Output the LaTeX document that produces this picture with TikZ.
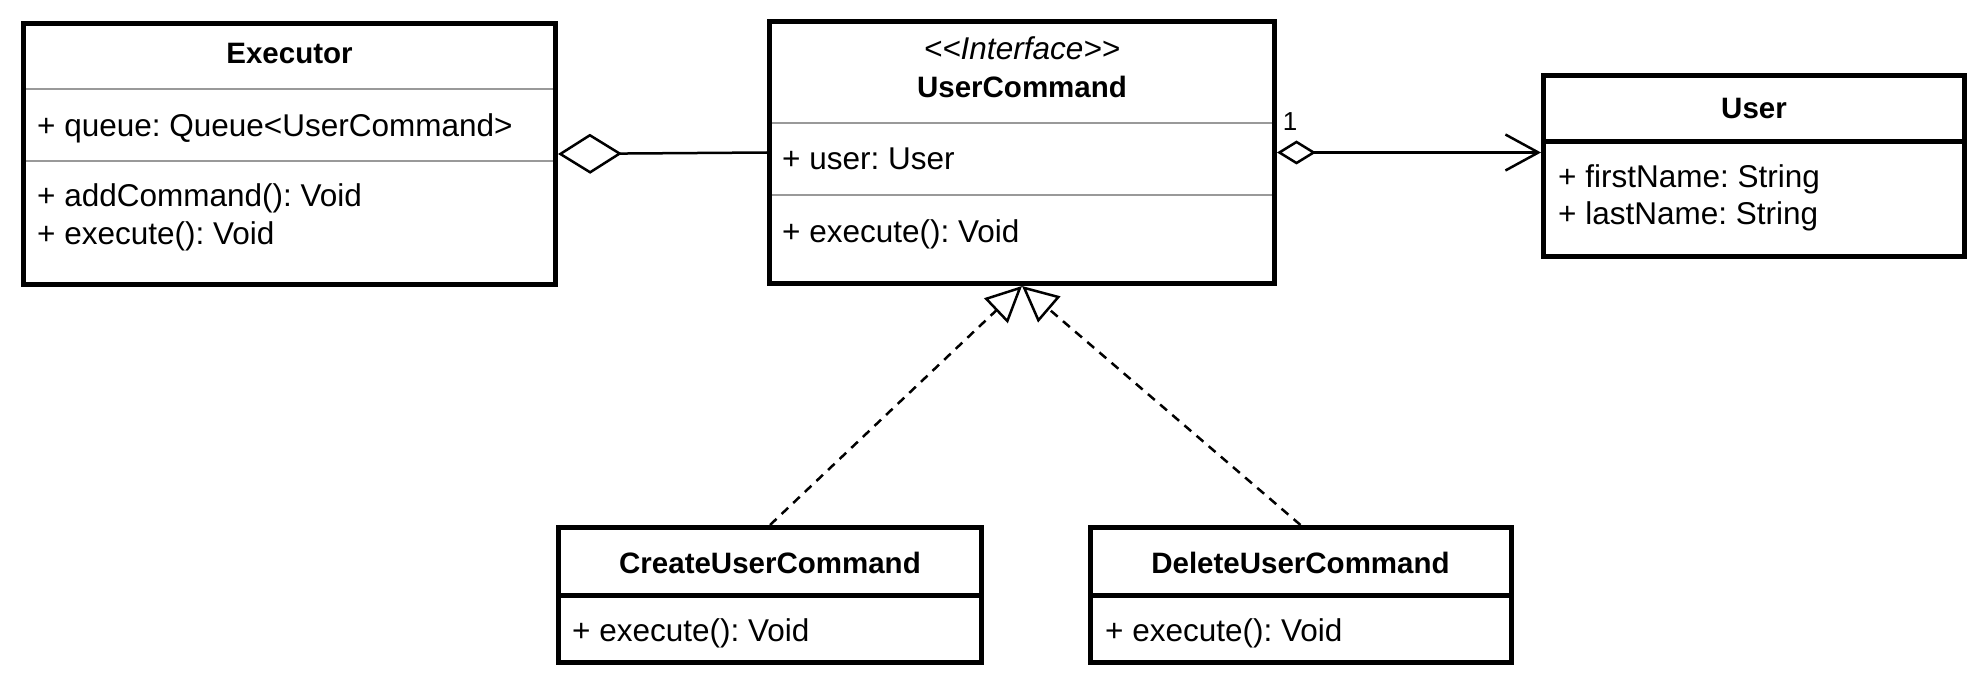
\documentclass[tikz,border=0pt]{standalone}
\usepackage{fontspec}
\setmainfont{Liberation Sans}
\usetikzlibrary{arrows.meta}
\frenchspacing
\begin{document}
\begin{tikzpicture}[x=1pt,y=-1pt,
  umlbox/.style={draw=black, line width=5pt, inner sep=0pt, fill=white},
  ttl/.style={font=\fontsize{29.5}{34}\selectfont\bfseries, anchor=base, inner sep=0pt},
  stereo/.style={font=\fontsize{31.5}{36}\selectfont\itshape, anchor=base, inner sep=0pt},
  attr/.style={font=\fontsize{31.5}{36}\selectfont, anchor=base west, inner sep=0pt},
  mult/.style={font=\fontsize{26}{30}\selectfont, inner sep=0pt},
  graysep/.style={draw=black!40, line width=2.5pt},
  blacksep/.style={draw=black, line width=5pt},
  conn/.style={draw=black, line width=2.5pt},
  realize/.style={conn, dash pattern=on 9pt off 7pt, -{Triangle[open, length=36pt, width=34pt]}},
]
\useasboundingbox (0,0) rectangle (1975,687);

% Executor
\node[umlbox, minimum width=532pt, minimum height=261pt] (exec) at (289.5,154) {};
\draw[graysep] (26,89) -- (553,89);
\draw[graysep] (26,161) -- (553,161);
\node[ttl] (execT) at (289.5,64) {Executor};
\node[attr] (execA) at (37,137) {+ queue: Queue{<}UserCommand{>}};
\node[attr] (execM1) at (37,207) {+ addCommand(): Void};
\node[attr] (execM2) at (37,244) {+ execute(): Void};

% UserCommand
\node[umlbox, minimum width=505pt, minimum height=262pt] (uc) at (1022,152.5) {};
\draw[graysep] (772,123) -- (1272,123);
\draw[graysep] (772,195) -- (1272,195);
\node[stereo] (ucS) at (1022,60) {{<}{<}Interface{>}{>}};
\node[ttl] (ucT) at (1022,98) {UserCommand};
\node[attr] (ucA) at (782,170) {+ user: User};
\node[attr] (ucM) at (782,242) {+ execute(): Void};

% User
\node[umlbox, minimum width=421pt, minimum height=181pt] (user) at (1754,166) {};
\draw[blacksep] (1543.5,142) -- (1964.5,142);
\node[ttl] (userT) at (1754,119) {User};
\node[attr] (userA1) at (1558,188) {+ firstName: String};
\node[attr] (userA2) at (1558,225) {+ lastName: String};

% CreateUserCommand
\node[umlbox, minimum width=423pt, minimum height=135pt] (create) at (770,595) {};
\draw[blacksep] (558.5,595) -- (981.5,595);
\node[ttl] (createT) at (770,573) {CreateUserCommand};
\node[attr] (createM) at (572,641) {+ execute(): Void};

% DeleteUserCommand
\node[umlbox, minimum width=421pt, minimum height=135pt] (delete) at (1300.5,595) {};
\draw[blacksep] (1090,595) -- (1511,595);
\node[ttl] (deleteT) at (1300.5,573) {DeleteUserCommand};
\node[attr] (deleteM) at (1105,641) {+ execute(): Void};

% connectors
\draw[conn, {Diamond[open, length=64pt, width=40pt]}-] (exec.east) -- (uc.west);
\draw[conn, {Diamond[open, length=39pt, width=24pt]}-{Straight Barb[length=33pt, width=36pt]}] (uc.east) -- (uc.east -| user.west);
\node[mult] (m1) at (1290,122) {1};
\draw[realize] (create.north) -- (uc.south);
\draw[realize] (delete.north) -- (uc.south);
\end{tikzpicture}
\end{document}
